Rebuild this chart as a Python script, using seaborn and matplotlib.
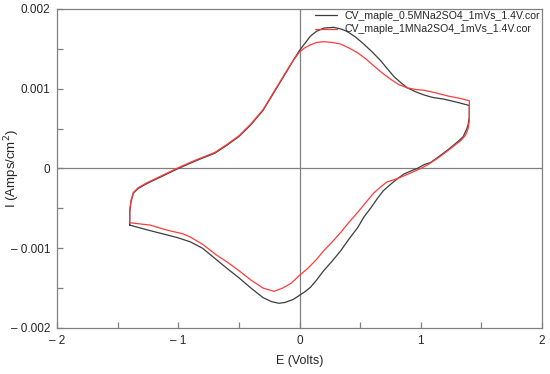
import matplotlib
matplotlib.use("Agg")
import matplotlib.pyplot as plt
import numpy as np
import pandas as pd
import seaborn as sns

# ========== DONNEES ==========
# balayage aller (branche haute), de -1.4 V a 1.4 V
e_haut_05 = [-1.4, -1.4, -1.39, -1.37, -1.33, -1.26, -1.15, -1.0, -0.85, -0.7, -0.6,
             -0.5, -0.4, -0.3, -0.2, -0.1, -0.05, 0.0, 0.05, 0.09, 0.14, 0.2, 0.28,
             0.34, 0.39, 0.46, 0.53, 0.6, 0.67, 0.73, 0.78, 0.84, 0.89, 0.96, 1.03,
             1.1, 1.19, 1.3, 1.4]
i_haut_05 = [-0.00071, -0.00055, -0.00042, -0.00031, -0.00025, -0.00019, -0.00011, 0.0,
             0.0001, 0.00019, 0.00029, 0.0004, 0.00055, 0.00073, 0.00098, 0.00123,
             0.00136, 0.00148, 0.00158, 0.00166, 0.00172, 0.00176, 0.00177, 0.00175,
             0.00172, 0.00165, 0.00156, 0.00146, 0.00135, 0.00124, 0.00115, 0.00107,
             0.00101, 0.00096, 0.00092, 0.00089, 0.00087, 0.00083, 0.00079]

e_haut_1 = [-1.4, -1.4, -1.39, -1.37, -1.33, -1.26, -1.15, -1.0, -0.85, -0.7, -0.6,
            -0.5, -0.4, -0.3, -0.2, -0.1, -0.05, 0.0, 0.04, 0.09, 0.14, 0.2, 0.27,
            0.34, 0.41, 0.48, 0.55, 0.61, 0.68, 0.75, 0.82, 0.89, 0.96, 1.03, 1.12,
            1.22, 1.32, 1.4]
i_haut_1 = [-0.00068, -0.00052, -0.0004, -0.0003, -0.00024, -0.00018, -0.0001, 0.00001,
            0.00011, 0.0002, 0.0003, 0.00041, 0.00056, 0.00074, 0.00099, 0.00124,
            0.00136, 0.00146, 0.00151, 0.00155, 0.00158, 0.00159, 0.00158, 0.00156,
            0.00151, 0.00145, 0.00137, 0.00129, 0.0012, 0.00112, 0.00105, 0.00101,
            0.00099, 0.00098, 0.00095, 0.00091, 0.00088, 0.00085]

# balayage retour (branche basse), de 1.4 V a -1.4 V
e_bas_05 = [1.4, 1.4, 1.39, 1.38, 1.35, 1.3, 1.22, 1.14, 1.08, 1.03, 0.97, 0.92,
            0.86, 0.81, 0.75, 0.69, 0.64, 0.59, 0.53, 0.48, 0.41, 0.34, 0.27, 0.2,
            0.14, 0.09, 0.04, 0.0, -0.05, -0.12, -0.17, -0.23, -0.3, -0.4, -0.5,
            -0.6, -0.68, -0.8, -0.9, -1.0, -1.1, -1.23, -1.4]
i_bas_05 = [0.00079, 0.00064, 0.00055, 0.0005, 0.0004, 0.00033, 0.00023, 0.00014,
            0.000075, 0.00005, 0.0, -0.00003, -0.00007, -0.000125, -0.0002, -0.00028,
            -0.00038, -0.00049, -0.00061, -0.00074, -0.00088, -0.00103, -0.00116,
            -0.00128, -0.0014, -0.00149, -0.00155, -0.00159, -0.00164, -0.00168,
            -0.00169, -0.00167, -0.00162, -0.0015, -0.00137, -0.00125, -0.00115,
            -0.001, -0.00092, -0.00087, -0.00083, -0.00078, -0.00071]

e_bas_1 = [1.4, 1.4, 1.39, 1.37, 1.33, 1.27, 1.22, 1.14, 1.06, 1.0, 0.94, 0.88,
           0.81, 0.76, 0.72, 0.67, 0.61, 0.55, 0.48, 0.41, 0.34, 0.27, 0.2, 0.14,
           0.07, 0.0, -0.07, -0.14, -0.21, -0.3, -0.4, -0.5, -0.6, -0.68, -0.8,
           -0.9, -0.96, -1.1, -1.23, -1.4]
i_bas_1 = [0.00085, 0.0006, 0.0005, 0.00042, 0.00035, 0.00028, 0.00022, 0.00013,
           0.00005, 0.0, -0.00004, -0.00008, -0.000125, -0.00015, -0.00017,
           -0.00023, -0.00031, -0.00042, -0.00055, -0.00067, -0.0008, -0.00092,
           -0.00103, -0.00114, -0.00125, -0.00134, -0.00144, -0.0015, -0.00154,
           -0.0015, -0.0014, -0.00128, -0.00117, -0.00109, -0.00095, -0.00086,
           -0.00082, -0.00077, -0.00071, -0.00068]

noms = ["CV_maple_0.5MNa2SO4_1mVs_1.4V.cor", "CV_maple_1MNa2SO4_1mVs_1.4V.cor"]
couleurs = ["#3c3c3c", "#ff3b3b"]

x_ticks = [-2, -1, 0, 1, 2]
x_labels = ["\u2013 2", "\u2013 1", "0", "1", "2"]
y_ticks = [-0.002, -0.001, 0, 0.001, 0.002]
y_labels = ["\u2013 0.002", "\u2013 0.001", "0", "0.001", "0.002"]

# ========== TABLEAU POUR SEABORN ==========
lignes = []
for nom, e_h, i_h, e_b, i_b in [(noms[0], e_haut_05, i_haut_05, e_bas_05, i_bas_05),
                                 (noms[1], e_haut_1, i_haut_1, e_bas_1, i_bas_1)]:
    e_tout = list(e_h) + list(e_b)
    i_tout = list(i_h) + list(i_b)
    for k, (e, i) in enumerate(zip(e_tout, i_tout)):
        lignes.append({"ordre": k, "E": e, "I": i, "serie": nom})
df = pd.DataFrame(lignes)

# ========== FIGURE ==========
sns.set_style("white")
plt.rcParams["font.family"] = ["Liberation Sans", "DejaVu Sans"]

fig = plt.figure(figsize=(5.5, 3.74), dpi=100)
ax = fig.add_axes([0.1036, 0.123, 0.882, 0.853])

ax.axhline(0, color="#808080", lw=0.9, zorder=1)
ax.axvline(0, color="#808080", lw=0.9, zorder=1)

sns.lineplot(data=df, x="E", y="I", hue="serie", palette=couleurs, sort=False,
             estimator=None, lw=0.9, ax=ax, zorder=3)

ax.set_xlim(-2, 2)
ax.set_ylim(-0.002, 0.002)
ax.set_xticks(x_ticks)
ax.set_xticklabels(x_labels)
ax.set_yticks(y_ticks)
ax.set_yticklabels(y_labels)
ax.set_xticks([-1.5, -0.5, 0.5, 1.5], minor=True)
ax.set_yticks([-0.0015, -0.0005, 0.0005, 0.0015], minor=True)
ax.tick_params(which="both", direction="in", length=4, width=0.9, color="#808080",
               labelsize=8.5, pad=5, bottom=True, left=True)

for sp in ax.spines.values():
    sp.set_color("#808080")
    sp.set_linewidth(0.9)

ax.set_xlabel("E (Volts)", fontsize=9, labelpad=6)
ax.set_ylabel("I (Amps/cm$^2$)", fontsize=9.5)
ax.yaxis.set_label_coords(-0.072, 0.5)

leg = ax.legend(loc="upper right", bbox_to_anchor=(1.0, 1.0), frameon=False,
                fontsize=7.6, handlelength=2.1, borderaxespad=0.0, borderpad=0.2,
                labelspacing=0.3, handletextpad=0.65)
leg.set_title(None)

plt.savefig("out.png", dpi=100)
